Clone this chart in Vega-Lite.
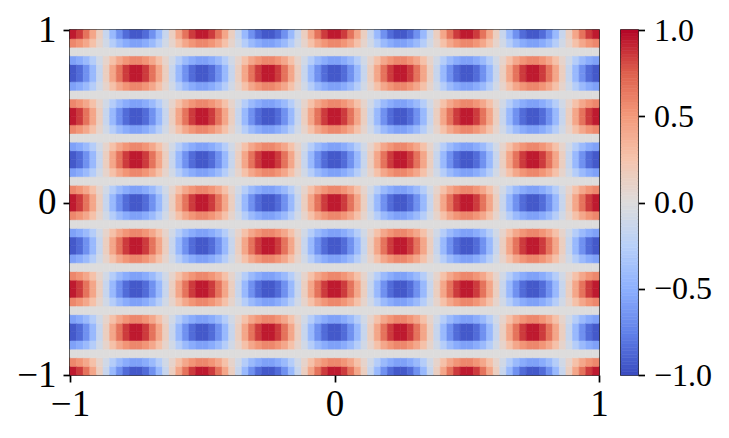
{
  "$schema": "https://vega.github.io/schema/vega-lite/v6.json",
  "padding": {"left": 15, "top": 10, "right": 5, "bottom": 5},
  "background": "white",
  "config": {
    "font": "Liberation Serif",
    "view": {"stroke": "#000000", "strokeWidth": 1.7},
    "axis": {"domain": false, "grid": false, "labelFlush": false, "tickColor": "#000000", "tickWidth": 1.7, "tickSize": 7, "labelColor": "#000000", "labelFont": "Liberation Serif", "labelFontSize": 37, "labelPadding": 7, "title": null},
    "concat": {"spacing": 9}
  },
  "datasets": {
    "ys": [
      {"k":"j0","y":-1,"y2":-0.95},{"k":"j1","y":-0.95,"y2":-0.9},{"k":"j2","y":-0.9,"y2":-0.85},{"k":"j3","y":-0.85,"y2":-0.8},{"k":"j4","y":-0.8,"y2":-0.75},
      {"k":"j5","y":-0.75,"y2":-0.7},{"k":"j6","y":-0.7,"y2":-0.65},{"k":"j7","y":-0.65,"y2":-0.6},{"k":"j8","y":-0.6,"y2":-0.55},{"k":"j9","y":-0.55,"y2":-0.5},
      {"k":"j10","y":-0.5,"y2":-0.45},{"k":"j11","y":-0.45,"y2":-0.4},{"k":"j12","y":-0.4,"y2":-0.35},{"k":"j13","y":-0.35,"y2":-0.3},{"k":"j14","y":-0.3,"y2":-0.25},
      {"k":"j15","y":-0.25,"y2":-0.2},{"k":"j16","y":-0.2,"y2":-0.15},{"k":"j17","y":-0.15,"y2":-0.1},{"k":"j18","y":-0.1,"y2":-0.05},{"k":"j19","y":-0.05,"y2":0},
      {"k":"j20","y":0,"y2":0.05},{"k":"j21","y":0.05,"y2":0.1},{"k":"j22","y":0.1,"y2":0.15},{"k":"j23","y":0.15,"y2":0.2},{"k":"j24","y":0.2,"y2":0.25},
      {"k":"j25","y":0.25,"y2":0.3},{"k":"j26","y":0.3,"y2":0.35},{"k":"j27","y":0.35,"y2":0.4},{"k":"j28","y":0.4,"y2":0.45},{"k":"j29","y":0.45,"y2":0.5},
      {"k":"j30","y":0.5,"y2":0.55},{"k":"j31","y":0.55,"y2":0.6},{"k":"j32","y":0.6,"y2":0.65},{"k":"j33","y":0.65,"y2":0.7},{"k":"j34","y":0.7,"y2":0.75},
      {"k":"j35","y":0.75,"y2":0.8},{"k":"j36","y":0.8,"y2":0.85},{"k":"j37","y":0.85,"y2":0.9},{"k":"j38","y":0.9,"y2":0.95},{"k":"j39","y":0.95,"y2":1}
    ]
  },
  "hconcat": [
    {
      "width": 529,
      "height": 345,
      "data": {
        "values": "x,x2,j0,j1,j2,j3,j4,j5,j6,j7,j8,j9,j10,j11,j12,j13,j14,j15,j16,j17,j18,j19,j20,j21,j22,j23,j24,j25,j26,j27,j28,j29,j30,j31,j32,j33,j34,j35,j36,j37,j38,j39\n-1,-.975,.94,.58,0,-.58,-.94,-.94,-.58,0,.58,.94,.94,.58,0,-.58,-.94,-.94,-.58,0,.58,.94,.94,.58,0,-.58,-.94,-.94,-.58,0,.58,.94,.94,.58,0,-.58,-.94,-.94,-.58,0,.58,.94\n-.975,-.95,.85,.52,0,-.52,-.85,-.85,-.52,0,.52,.85,.85,.52,0,-.52,-.85,-.85,-.52,0,.52,.85,.85,.52,0,-.52,-.85,-.85,-.52,0,.52,.85,.85,.52,0,-.52,-.85,-.85,-.52,0,.52,.85\n-.95,-.925,.67,.42,0,-.42,-.67,-.67,-.42,0,.42,.67,.67,.42,0,-.42,-.67,-.67,-.42,0,.42,.67,.67,.42,0,-.42,-.67,-.67,-.42,0,.42,.67,.67,.42,0,-.42,-.67,-.67,-.42,0,.42,.67\n-.925,-.9,.43,.27,0,-.27,-.43,-.43,-.27,0,.27,.43,.43,.27,0,-.27,-.43,-.43,-.27,0,.27,.43,.43,.27,0,-.27,-.43,-.43,-.27,0,.27,.43,.43,.27,0,-.27,-.43,-.43,-.27,0,.27,.43\n-.9,-.875,.15,.09,0,-.09,-.15,-.15,-.09,0,.09,.15,.15,.09,0,-.09,-.15,-.15,-.09,0,.09,.15,.15,.09,0,-.09,-.15,-.15,-.09,0,.09,.15,.15,.09,0,-.09,-.15,-.15,-.09,0,.09,.15\n-.875,-.85,-.15,-.09,0,.09,.15,.15,.09,0,-.09,-.15,-.15,-.09,0,.09,.15,.15,.09,0,-.09,-.15,-.15,-.09,0,.09,.15,.15,.09,0,-.09,-.15,-.15,-.09,0,.09,.15,.15,.09,0,-.09,-.15\n-.85,-.825,-.43,-.27,0,.27,.43,.43,.27,0,-.27,-.43,-.43,-.27,0,.27,.43,.43,.27,0,-.27,-.43,-.43,-.27,0,.27,.43,.43,.27,0,-.27,-.43,-.43,-.27,0,.27,.43,.43,.27,0,-.27,-.43\n-.825,-.8,-.67,-.42,0,.42,.67,.67,.42,0,-.42,-.67,-.67,-.42,0,.42,.67,.67,.42,0,-.42,-.67,-.67,-.42,0,.42,.67,.67,.42,0,-.42,-.67,-.67,-.42,0,.42,.67,.67,.42,0,-.42,-.67\n-.8,-.775,-.85,-.52,0,.52,.85,.85,.52,0,-.52,-.85,-.85,-.52,0,.52,.85,.85,.52,0,-.52,-.85,-.85,-.52,0,.52,.85,.85,.52,0,-.52,-.85,-.85,-.52,0,.52,.85,.85,.52,0,-.52,-.85\n-.775,-.75,-.94,-.58,0,.58,.94,.94,.58,0,-.58,-.94,-.94,-.58,0,.58,.94,.94,.58,0,-.58,-.94,-.94,-.58,0,.58,.94,.94,.58,0,-.58,-.94,-.94,-.58,0,.58,.94,.94,.58,0,-.58,-.94\n-.75,-.725,-.94,-.58,0,.58,.94,.94,.58,0,-.58,-.94,-.94,-.58,0,.58,.94,.94,.58,0,-.58,-.94,-.94,-.58,0,.58,.94,.94,.58,0,-.58,-.94,-.94,-.58,0,.58,.94,.94,.58,0,-.58,-.94\n-.725,-.7,-.85,-.52,0,.52,.85,.85,.52,0,-.52,-.85,-.85,-.52,0,.52,.85,.85,.52,0,-.52,-.85,-.85,-.52,0,.52,.85,.85,.52,0,-.52,-.85,-.85,-.52,0,.52,.85,.85,.52,0,-.52,-.85\n-.7,-.675,-.67,-.42,0,.42,.67,.67,.42,0,-.42,-.67,-.67,-.42,0,.42,.67,.67,.42,0,-.42,-.67,-.67,-.42,0,.42,.67,.67,.42,0,-.42,-.67,-.67,-.42,0,.42,.67,.67,.42,0,-.42,-.67\n-.675,-.65,-.43,-.27,0,.27,.43,.43,.27,0,-.27,-.43,-.43,-.27,0,.27,.43,.43,.27,0,-.27,-.43,-.43,-.27,0,.27,.43,.43,.27,0,-.27,-.43,-.43,-.27,0,.27,.43,.43,.27,0,-.27,-.43\n-.65,-.625,-.15,-.09,0,.09,.15,.15,.09,0,-.09,-.15,-.15,-.09,0,.09,.15,.15,.09,0,-.09,-.15,-.15,-.09,0,.09,.15,.15,.09,0,-.09,-.15,-.15,-.09,0,.09,.15,.15,.09,0,-.09,-.15\n-.625,-.6,.15,.09,0,-.09,-.15,-.15,-.09,0,.09,.15,.15,.09,0,-.09,-.15,-.15,-.09,0,.09,.15,.15,.09,0,-.09,-.15,-.15,-.09,0,.09,.15,.15,.09,0,-.09,-.15,-.15,-.09,0,.09,.15\n-.6,-.575,.43,.27,0,-.27,-.43,-.43,-.27,0,.27,.43,.43,.27,0,-.27,-.43,-.43,-.27,0,.27,.43,.43,.27,0,-.27,-.43,-.43,-.27,0,.27,.43,.43,.27,0,-.27,-.43,-.43,-.27,0,.27,.43\n-.575,-.55,.67,.42,0,-.42,-.67,-.67,-.42,0,.42,.67,.67,.42,0,-.42,-.67,-.67,-.42,0,.42,.67,.67,.42,0,-.42,-.67,-.67,-.42,0,.42,.67,.67,.42,0,-.42,-.67,-.67,-.42,0,.42,.67\n-.55,-.525,.85,.52,0,-.52,-.85,-.85,-.52,0,.52,.85,.85,.52,0,-.52,-.85,-.85,-.52,0,.52,.85,.85,.52,0,-.52,-.85,-.85,-.52,0,.52,.85,.85,.52,0,-.52,-.85,-.85,-.52,0,.52,.85\n-.525,-.5,.94,.58,0,-.58,-.94,-.94,-.58,0,.58,.94,.94,.58,0,-.58,-.94,-.94,-.58,0,.58,.94,.94,.58,0,-.58,-.94,-.94,-.58,0,.58,.94,.94,.58,0,-.58,-.94,-.94,-.58,0,.58,.94\n-.5,-.475,.94,.58,0,-.58,-.94,-.94,-.58,0,.58,.94,.94,.58,0,-.58,-.94,-.94,-.58,0,.58,.94,.94,.58,0,-.58,-.94,-.94,-.58,0,.58,.94,.94,.58,0,-.58,-.94,-.94,-.58,0,.58,.94\n-.475,-.45,.85,.52,0,-.52,-.85,-.85,-.52,0,.52,.85,.85,.52,0,-.52,-.85,-.85,-.52,0,.52,.85,.85,.52,0,-.52,-.85,-.85,-.52,0,.52,.85,.85,.52,0,-.52,-.85,-.85,-.52,0,.52,.85\n-.45,-.425,.67,.42,0,-.42,-.67,-.67,-.42,0,.42,.67,.67,.42,0,-.42,-.67,-.67,-.42,0,.42,.67,.67,.42,0,-.42,-.67,-.67,-.42,0,.42,.67,.67,.42,0,-.42,-.67,-.67,-.42,0,.42,.67\n-.425,-.4,.43,.27,0,-.27,-.43,-.43,-.27,0,.27,.43,.43,.27,0,-.27,-.43,-.43,-.27,0,.27,.43,.43,.27,0,-.27,-.43,-.43,-.27,0,.27,.43,.43,.27,0,-.27,-.43,-.43,-.27,0,.27,.43\n-.4,-.375,.15,.09,0,-.09,-.15,-.15,-.09,0,.09,.15,.15,.09,0,-.09,-.15,-.15,-.09,0,.09,.15,.15,.09,0,-.09,-.15,-.15,-.09,0,.09,.15,.15,.09,0,-.09,-.15,-.15,-.09,0,.09,.15\n-.375,-.35,-.15,-.09,0,.09,.15,.15,.09,0,-.09,-.15,-.15,-.09,0,.09,.15,.15,.09,0,-.09,-.15,-.15,-.09,0,.09,.15,.15,.09,0,-.09,-.15,-.15,-.09,0,.09,.15,.15,.09,0,-.09,-.15\n-.35,-.325,-.43,-.27,0,.27,.43,.43,.27,0,-.27,-.43,-.43,-.27,0,.27,.43,.43,.27,0,-.27,-.43,-.43,-.27,0,.27,.43,.43,.27,0,-.27,-.43,-.43,-.27,0,.27,.43,.43,.27,0,-.27,-.43\n-.325,-.3,-.67,-.42,0,.42,.67,.67,.42,0,-.42,-.67,-.67,-.42,0,.42,.67,.67,.42,0,-.42,-.67,-.67,-.42,0,.42,.67,.67,.42,0,-.42,-.67,-.67,-.42,0,.42,.67,.67,.42,0,-.42,-.67\n-.3,-.275,-.85,-.52,0,.52,.85,.85,.52,0,-.52,-.85,-.85,-.52,0,.52,.85,.85,.52,0,-.52,-.85,-.85,-.52,0,.52,.85,.85,.52,0,-.52,-.85,-.85,-.52,0,.52,.85,.85,.52,0,-.52,-.85\n-.275,-.25,-.94,-.58,0,.58,.94,.94,.58,0,-.58,-.94,-.94,-.58,0,.58,.94,.94,.58,0,-.58,-.94,-.94,-.58,0,.58,.94,.94,.58,0,-.58,-.94,-.94,-.58,0,.58,.94,.94,.58,0,-.58,-.94\n-.25,-.225,-.94,-.58,0,.58,.94,.94,.58,0,-.58,-.94,-.94,-.58,0,.58,.94,.94,.58,0,-.58,-.94,-.94,-.58,0,.58,.94,.94,.58,0,-.58,-.94,-.94,-.58,0,.58,.94,.94,.58,0,-.58,-.94\n-.225,-.2,-.85,-.52,0,.52,.85,.85,.52,0,-.52,-.85,-.85,-.52,0,.52,.85,.85,.52,0,-.52,-.85,-.85,-.52,0,.52,.85,.85,.52,0,-.52,-.85,-.85,-.52,0,.52,.85,.85,.52,0,-.52,-.85\n-.2,-.175,-.67,-.42,0,.42,.67,.67,.42,0,-.42,-.67,-.67,-.42,0,.42,.67,.67,.42,0,-.42,-.67,-.67,-.42,0,.42,.67,.67,.42,0,-.42,-.67,-.67,-.42,0,.42,.67,.67,.42,0,-.42,-.67\n-.175,-.15,-.43,-.27,0,.27,.43,.43,.27,0,-.27,-.43,-.43,-.27,0,.27,.43,.43,.27,0,-.27,-.43,-.43,-.27,0,.27,.43,.43,.27,0,-.27,-.43,-.43,-.27,0,.27,.43,.43,.27,0,-.27,-.43\n-.15,-.125,-.15,-.09,0,.09,.15,.15,.09,0,-.09,-.15,-.15,-.09,0,.09,.15,.15,.09,0,-.09,-.15,-.15,-.09,0,.09,.15,.15,.09,0,-.09,-.15,-.15,-.09,0,.09,.15,.15,.09,0,-.09,-.15\n-.125,-.1,.15,.09,0,-.09,-.15,-.15,-.09,0,.09,.15,.15,.09,0,-.09,-.15,-.15,-.09,0,.09,.15,.15,.09,0,-.09,-.15,-.15,-.09,0,.09,.15,.15,.09,0,-.09,-.15,-.15,-.09,0,.09,.15\n-.1,-.075,.43,.27,0,-.27,-.43,-.43,-.27,0,.27,.43,.43,.27,0,-.27,-.43,-.43,-.27,0,.27,.43,.43,.27,0,-.27,-.43,-.43,-.27,0,.27,.43,.43,.27,0,-.27,-.43,-.43,-.27,0,.27,.43\n-.075,-.05,.67,.42,0,-.42,-.67,-.67,-.42,0,.42,.67,.67,.42,0,-.42,-.67,-.67,-.42,0,.42,.67,.67,.42,0,-.42,-.67,-.67,-.42,0,.42,.67,.67,.42,0,-.42,-.67,-.67,-.42,0,.42,.67\n-.05,-.025,.85,.52,0,-.52,-.85,-.85,-.52,0,.52,.85,.85,.52,0,-.52,-.85,-.85,-.52,0,.52,.85,.85,.52,0,-.52,-.85,-.85,-.52,0,.52,.85,.85,.52,0,-.52,-.85,-.85,-.52,0,.52,.85\n-.025,0,.94,.58,0,-.58,-.94,-.94,-.58,0,.58,.94,.94,.58,0,-.58,-.94,-.94,-.58,0,.58,.94,.94,.58,0,-.58,-.94,-.94,-.58,0,.58,.94,.94,.58,0,-.58,-.94,-.94,-.58,0,.58,.94\n0,.025,.94,.58,0,-.58,-.94,-.94,-.58,0,.58,.94,.94,.58,0,-.58,-.94,-.94,-.58,0,.58,.94,.94,.58,0,-.58,-.94,-.94,-.58,0,.58,.94,.94,.58,0,-.58,-.94,-.94,-.58,0,.58,.94\n.025,.05,.85,.52,0,-.52,-.85,-.85,-.52,0,.52,.85,.85,.52,0,-.52,-.85,-.85,-.52,0,.52,.85,.85,.52,0,-.52,-.85,-.85,-.52,0,.52,.85,.85,.52,0,-.52,-.85,-.85,-.52,0,.52,.85\n.05,.075,.67,.42,0,-.42,-.67,-.67,-.42,0,.42,.67,.67,.42,0,-.42,-.67,-.67,-.42,0,.42,.67,.67,.42,0,-.42,-.67,-.67,-.42,0,.42,.67,.67,.42,0,-.42,-.67,-.67,-.42,0,.42,.67\n.075,.1,.43,.27,0,-.27,-.43,-.43,-.27,0,.27,.43,.43,.27,0,-.27,-.43,-.43,-.27,0,.27,.43,.43,.27,0,-.27,-.43,-.43,-.27,0,.27,.43,.43,.27,0,-.27,-.43,-.43,-.27,0,.27,.43\n.1,.125,.15,.09,0,-.09,-.15,-.15,-.09,0,.09,.15,.15,.09,0,-.09,-.15,-.15,-.09,0,.09,.15,.15,.09,0,-.09,-.15,-.15,-.09,0,.09,.15,.15,.09,0,-.09,-.15,-.15,-.09,0,.09,.15\n.125,.15,-.15,-.09,0,.09,.15,.15,.09,0,-.09,-.15,-.15,-.09,0,.09,.15,.15,.09,0,-.09,-.15,-.15,-.09,0,.09,.15,.15,.09,0,-.09,-.15,-.15,-.09,0,.09,.15,.15,.09,0,-.09,-.15\n.15,.175,-.43,-.27,0,.27,.43,.43,.27,0,-.27,-.43,-.43,-.27,0,.27,.43,.43,.27,0,-.27,-.43,-.43,-.27,0,.27,.43,.43,.27,0,-.27,-.43,-.43,-.27,0,.27,.43,.43,.27,0,-.27,-.43\n.175,.2,-.67,-.42,0,.42,.67,.67,.42,0,-.42,-.67,-.67,-.42,0,.42,.67,.67,.42,0,-.42,-.67,-.67,-.42,0,.42,.67,.67,.42,0,-.42,-.67,-.67,-.42,0,.42,.67,.67,.42,0,-.42,-.67\n.2,.225,-.85,-.52,0,.52,.85,.85,.52,0,-.52,-.85,-.85,-.52,0,.52,.85,.85,.52,0,-.52,-.85,-.85,-.52,0,.52,.85,.85,.52,0,-.52,-.85,-.85,-.52,0,.52,.85,.85,.52,0,-.52,-.85\n.225,.25,-.94,-.58,0,.58,.94,.94,.58,0,-.58,-.94,-.94,-.58,0,.58,.94,.94,.58,0,-.58,-.94,-.94,-.58,0,.58,.94,.94,.58,0,-.58,-.94,-.94,-.58,0,.58,.94,.94,.58,0,-.58,-.94\n.25,.275,-.94,-.58,0,.58,.94,.94,.58,0,-.58,-.94,-.94,-.58,0,.58,.94,.94,.58,0,-.58,-.94,-.94,-.58,0,.58,.94,.94,.58,0,-.58,-.94,-.94,-.58,0,.58,.94,.94,.58,0,-.58,-.94\n.275,.3,-.85,-.52,0,.52,.85,.85,.52,0,-.52,-.85,-.85,-.52,0,.52,.85,.85,.52,0,-.52,-.85,-.85,-.52,0,.52,.85,.85,.52,0,-.52,-.85,-.85,-.52,0,.52,.85,.85,.52,0,-.52,-.85\n.3,.325,-.67,-.42,0,.42,.67,.67,.42,0,-.42,-.67,-.67,-.42,0,.42,.67,.67,.42,0,-.42,-.67,-.67,-.42,0,.42,.67,.67,.42,0,-.42,-.67,-.67,-.42,0,.42,.67,.67,.42,0,-.42,-.67\n.325,.35,-.43,-.27,0,.27,.43,.43,.27,0,-.27,-.43,-.43,-.27,0,.27,.43,.43,.27,0,-.27,-.43,-.43,-.27,0,.27,.43,.43,.27,0,-.27,-.43,-.43,-.27,0,.27,.43,.43,.27,0,-.27,-.43\n.35,.375,-.15,-.09,0,.09,.15,.15,.09,0,-.09,-.15,-.15,-.09,0,.09,.15,.15,.09,0,-.09,-.15,-.15,-.09,0,.09,.15,.15,.09,0,-.09,-.15,-.15,-.09,0,.09,.15,.15,.09,0,-.09,-.15\n.375,.4,.15,.09,0,-.09,-.15,-.15,-.09,0,.09,.15,.15,.09,0,-.09,-.15,-.15,-.09,0,.09,.15,.15,.09,0,-.09,-.15,-.15,-.09,0,.09,.15,.15,.09,0,-.09,-.15,-.15,-.09,0,.09,.15\n.4,.425,.43,.27,0,-.27,-.43,-.43,-.27,0,.27,.43,.43,.27,0,-.27,-.43,-.43,-.27,0,.27,.43,.43,.27,0,-.27,-.43,-.43,-.27,0,.27,.43,.43,.27,0,-.27,-.43,-.43,-.27,0,.27,.43\n.425,.45,.67,.42,0,-.42,-.67,-.67,-.42,0,.42,.67,.67,.42,0,-.42,-.67,-.67,-.42,0,.42,.67,.67,.42,0,-.42,-.67,-.67,-.42,0,.42,.67,.67,.42,0,-.42,-.67,-.67,-.42,0,.42,.67\n.45,.475,.85,.52,0,-.52,-.85,-.85,-.52,0,.52,.85,.85,.52,0,-.52,-.85,-.85,-.52,0,.52,.85,.85,.52,0,-.52,-.85,-.85,-.52,0,.52,.85,.85,.52,0,-.52,-.85,-.85,-.52,0,.52,.85\n.475,.5,.94,.58,0,-.58,-.94,-.94,-.58,0,.58,.94,.94,.58,0,-.58,-.94,-.94,-.58,0,.58,.94,.94,.58,0,-.58,-.94,-.94,-.58,0,.58,.94,.94,.58,0,-.58,-.94,-.94,-.58,0,.58,.94\n.5,.525,.94,.58,0,-.58,-.94,-.94,-.58,0,.58,.94,.94,.58,0,-.58,-.94,-.94,-.58,0,.58,.94,.94,.58,0,-.58,-.94,-.94,-.58,0,.58,.94,.94,.58,0,-.58,-.94,-.94,-.58,0,.58,.94\n.525,.55,.85,.52,0,-.52,-.85,-.85,-.52,0,.52,.85,.85,.52,0,-.52,-.85,-.85,-.52,0,.52,.85,.85,.52,0,-.52,-.85,-.85,-.52,0,.52,.85,.85,.52,0,-.52,-.85,-.85,-.52,0,.52,.85\n.55,.575,.67,.42,0,-.42,-.67,-.67,-.42,0,.42,.67,.67,.42,0,-.42,-.67,-.67,-.42,0,.42,.67,.67,.42,0,-.42,-.67,-.67,-.42,0,.42,.67,.67,.42,0,-.42,-.67,-.67,-.42,0,.42,.67\n.575,.6,.43,.27,0,-.27,-.43,-.43,-.27,0,.27,.43,.43,.27,0,-.27,-.43,-.43,-.27,0,.27,.43,.43,.27,0,-.27,-.43,-.43,-.27,0,.27,.43,.43,.27,0,-.27,-.43,-.43,-.27,0,.27,.43\n.6,.625,.15,.09,0,-.09,-.15,-.15,-.09,0,.09,.15,.15,.09,0,-.09,-.15,-.15,-.09,0,.09,.15,.15,.09,0,-.09,-.15,-.15,-.09,0,.09,.15,.15,.09,0,-.09,-.15,-.15,-.09,0,.09,.15\n.625,.65,-.15,-.09,0,.09,.15,.15,.09,0,-.09,-.15,-.15,-.09,0,.09,.15,.15,.09,0,-.09,-.15,-.15,-.09,0,.09,.15,.15,.09,0,-.09,-.15,-.15,-.09,0,.09,.15,.15,.09,0,-.09,-.15\n.65,.675,-.43,-.27,0,.27,.43,.43,.27,0,-.27,-.43,-.43,-.27,0,.27,.43,.43,.27,0,-.27,-.43,-.43,-.27,0,.27,.43,.43,.27,0,-.27,-.43,-.43,-.27,0,.27,.43,.43,.27,0,-.27,-.43\n.675,.7,-.67,-.42,0,.42,.67,.67,.42,0,-.42,-.67,-.67,-.42,0,.42,.67,.67,.42,0,-.42,-.67,-.67,-.42,0,.42,.67,.67,.42,0,-.42,-.67,-.67,-.42,0,.42,.67,.67,.42,0,-.42,-.67\n.7,.725,-.85,-.52,0,.52,.85,.85,.52,0,-.52,-.85,-.85,-.52,0,.52,.85,.85,.52,0,-.52,-.85,-.85,-.52,0,.52,.85,.85,.52,0,-.52,-.85,-.85,-.52,0,.52,.85,.85,.52,0,-.52,-.85\n.725,.75,-.94,-.58,0,.58,.94,.94,.58,0,-.58,-.94,-.94,-.58,0,.58,.94,.94,.58,0,-.58,-.94,-.94,-.58,0,.58,.94,.94,.58,0,-.58,-.94,-.94,-.58,0,.58,.94,.94,.58,0,-.58,-.94\n.75,.775,-.94,-.58,0,.58,.94,.94,.58,0,-.58,-.94,-.94,-.58,0,.58,.94,.94,.58,0,-.58,-.94,-.94,-.58,0,.58,.94,.94,.58,0,-.58,-.94,-.94,-.58,0,.58,.94,.94,.58,0,-.58,-.94\n.775,.8,-.85,-.52,0,.52,.85,.85,.52,0,-.52,-.85,-.85,-.52,0,.52,.85,.85,.52,0,-.52,-.85,-.85,-.52,0,.52,.85,.85,.52,0,-.52,-.85,-.85,-.52,0,.52,.85,.85,.52,0,-.52,-.85\n.8,.825,-.67,-.42,0,.42,.67,.67,.42,0,-.42,-.67,-.67,-.42,0,.42,.67,.67,.42,0,-.42,-.67,-.67,-.42,0,.42,.67,.67,.42,0,-.42,-.67,-.67,-.42,0,.42,.67,.67,.42,0,-.42,-.67\n.825,.85,-.43,-.27,0,.27,.43,.43,.27,0,-.27,-.43,-.43,-.27,0,.27,.43,.43,.27,0,-.27,-.43,-.43,-.27,0,.27,.43,.43,.27,0,-.27,-.43,-.43,-.27,0,.27,.43,.43,.27,0,-.27,-.43\n.85,.875,-.15,-.09,0,.09,.15,.15,.09,0,-.09,-.15,-.15,-.09,0,.09,.15,.15,.09,0,-.09,-.15,-.15,-.09,0,.09,.15,.15,.09,0,-.09,-.15,-.15,-.09,0,.09,.15,.15,.09,0,-.09,-.15\n.875,.9,.15,.09,0,-.09,-.15,-.15,-.09,0,.09,.15,.15,.09,0,-.09,-.15,-.15,-.09,0,.09,.15,.15,.09,0,-.09,-.15,-.15,-.09,0,.09,.15,.15,.09,0,-.09,-.15,-.15,-.09,0,.09,.15\n.9,.925,.43,.27,0,-.27,-.43,-.43,-.27,0,.27,.43,.43,.27,0,-.27,-.43,-.43,-.27,0,.27,.43,.43,.27,0,-.27,-.43,-.43,-.27,0,.27,.43,.43,.27,0,-.27,-.43,-.43,-.27,0,.27,.43\n.925,.95,.67,.42,0,-.42,-.67,-.67,-.42,0,.42,.67,.67,.42,0,-.42,-.67,-.67,-.42,0,.42,.67,.67,.42,0,-.42,-.67,-.67,-.42,0,.42,.67,.67,.42,0,-.42,-.67,-.67,-.42,0,.42,.67\n.95,.975,.85,.52,0,-.52,-.85,-.85,-.52,0,.52,.85,.85,.52,0,-.52,-.85,-.85,-.52,0,.52,.85,.85,.52,0,-.52,-.85,-.85,-.52,0,.52,.85,.85,.52,0,-.52,-.85,-.85,-.52,0,.52,.85\n.975,1,.94,.58,0,-.58,-.94,-.94,-.58,0,.58,.94,.94,.58,0,-.58,-.94,-.94,-.58,0,.58,.94,.94,.58,0,-.58,-.94,-.94,-.58,0,.58,.94,.94,.58,0,-.58,-.94,-.94,-.58,0,.58,.94",
        "format": {"type": "csv", "parse": {"x":"number","x2":"number","j0":"number","j1":"number","j2":"number","j3":"number","j4":"number","j5":"number","j6":"number","j7":"number","j8":"number","j9":"number","j10":"number","j11":"number","j12":"number","j13":"number","j14":"number","j15":"number","j16":"number","j17":"number","j18":"number","j19":"number","j20":"number","j21":"number","j22":"number","j23":"number","j24":"number","j25":"number","j26":"number","j27":"number","j28":"number","j29":"number","j30":"number","j31":"number","j32":"number","j33":"number","j34":"number","j35":"number","j36":"number","j37":"number","j38":"number","j39":"number"}}
      },
      "transform": [
        {"fold": ["j0","j1","j2","j3","j4","j5","j6","j7","j8","j9","j10","j11","j12","j13","j14","j15","j16","j17","j18","j19","j20","j21","j22","j23","j24","j25","j26","j27","j28","j29","j30","j31","j32","j33","j34","j35","j36","j37","j38","j39"], "as": ["k","z"]},
        {"lookup": "k", "from": {"data": {"name": "ys"}, "key": "k", "fields": ["y","y2"]}}
      ],
      "mark": {"type": "rect", "strokeWidth": 0.6},
      "encoding": {
        "x": {"field": "x", "type": "quantitative", "scale": {"domain": [-1, 1], "nice": false, "zero": false}, "axis": {"values": [-1, 0, 1], "format": ".0f", "labelOverlap": false, "labelPadding": 4, "title": null}},
        "x2": {"field": "x2"},
        "y": {"field": "y", "type": "quantitative", "scale": {"domain": [-1, 1], "nice": false, "zero": false}, "axis": {"values": [-1, 0, 1], "format": ".0f", "labelOverlap": false, "title": null}},
        "y2": {"field": "y2"},
        "color": {"field": "z", "type": "quantitative", "legend": null, "scale": {"type": "linear", "domain": [-1, -0.75, -0.5, -0.25, 0, 0.25, 0.5, 0.75, 1], "range": ["#3a4cc0", "#6282ea", "#8db0fe", "#b8d0f9", "#dddcdc", "#f5c4ad", "#f49a7b", "#de604d", "#b40426"], "interpolate": "rgb"}},
        "stroke": {"field": "z", "type": "quantitative", "legend": null, "scale": {"type": "linear", "domain": [-1, -0.75, -0.5, -0.25, 0, 0.25, 0.5, 0.75, 1], "range": ["#3a4cc0", "#6282ea", "#8db0fe", "#b8d0f9", "#dddcdc", "#f5c4ad", "#f49a7b", "#de604d", "#b40426"], "interpolate": "rgb"}}
      }
    },
    {
      "width": 17,
      "height": 345,
      "data": {
        "values": "a,b,c\n-1,-.98,-.99\n-.98,-.96,-.97\n-.96,-.94,-.95\n-.94,-.92,-.93\n-.92,-.9,-.91\n-.9,-.88,-.89\n-.88,-.86,-.87\n-.86,-.84,-.85\n-.84,-.82,-.83\n-.82,-.8,-.81\n-.8,-.78,-.79\n-.78,-.76,-.77\n-.76,-.74,-.75\n-.74,-.72,-.73\n-.72,-.7,-.71\n-.7,-.68,-.69\n-.68,-.66,-.67\n-.66,-.64,-.65\n-.64,-.62,-.63\n-.62,-.6,-.61\n-.6,-.58,-.59\n-.58,-.56,-.57\n-.56,-.54,-.55\n-.54,-.52,-.53\n-.52,-.5,-.51\n-.5,-.48,-.49\n-.48,-.46,-.47\n-.46,-.44,-.45\n-.44,-.42,-.43\n-.42,-.4,-.41\n-.4,-.38,-.39\n-.38,-.36,-.37\n-.36,-.34,-.35\n-.34,-.32,-.33\n-.32,-.3,-.31\n-.3,-.28,-.29\n-.28,-.26,-.27\n-.26,-.24,-.25\n-.24,-.22,-.23\n-.22,-.2,-.21\n-.2,-.18,-.19\n-.18,-.16,-.17\n-.16,-.14,-.15\n-.14,-.12,-.13\n-.12,-.1,-.11\n-.1,-.08,-.09\n-.08,-.06,-.07\n-.06,-.04,-.05\n-.04,-.02,-.03\n-.02,0,-.01\n0,.02,.01\n.02,.04,.03\n.04,.06,.05\n.06,.08,.07\n.08,.1,.09\n.1,.12,.11\n.12,.14,.13\n.14,.16,.15\n.16,.18,.17\n.18,.2,.19\n.2,.22,.21\n.22,.24,.23\n.24,.26,.25\n.26,.28,.27\n.28,.3,.29\n.3,.32,.31\n.32,.34,.33\n.34,.36,.35\n.36,.38,.37\n.38,.4,.39\n.4,.42,.41\n.42,.44,.43\n.44,.46,.45\n.46,.48,.47\n.48,.5,.49\n.5,.52,.51\n.52,.54,.53\n.54,.56,.55\n.56,.58,.57\n.58,.6,.59\n.6,.62,.61\n.62,.64,.63\n.64,.66,.65\n.66,.68,.67\n.68,.7,.69\n.7,.72,.71\n.72,.74,.73\n.74,.76,.75\n.76,.78,.77\n.78,.8,.79\n.8,.82,.81\n.82,.84,.83\n.84,.86,.85\n.86,.88,.87\n.88,.9,.89\n.9,.92,.91\n.92,.94,.93\n.94,.96,.95\n.96,.98,.97\n.98,1,.99",
        "format": {"type": "csv", "parse": {"a": "number", "b": "number", "c": "number"}}
      },
      "mark": {"type": "rect", "strokeWidth": 0.6},
      "encoding": {
        "y": {"field": "a", "type": "quantitative", "scale": {"domain": [-1, 1], "nice": false, "zero": false}, "axis": {"orient": "right", "values": [-1, -0.5, 0, 0.5, 1], "format": ".1f", "labelOverlap": false, "labelFontSize": 32, "tickSize": 6.5, "labelPadding": 9, "title": null}},
        "y2": {"field": "b"},
        "color": {"field": "c", "type": "quantitative", "legend": null, "scale": {"type": "linear", "domain": [-1, -0.75, -0.5, -0.25, 0, 0.25, 0.5, 0.75, 1], "range": ["#3a4cc0", "#6282ea", "#8db0fe", "#b8d0f9", "#dddcdc", "#f5c4ad", "#f49a7b", "#de604d", "#b40426"], "interpolate": "rgb"}},
        "stroke": {"field": "c", "type": "quantitative", "legend": null, "scale": {"type": "linear", "domain": [-1, -0.75, -0.5, -0.25, 0, 0.25, 0.5, 0.75, 1], "range": ["#3a4cc0", "#6282ea", "#8db0fe", "#b8d0f9", "#dddcdc", "#f5c4ad", "#f49a7b", "#de604d", "#b40426"], "interpolate": "rgb"}}
      }
    }
  ],
  "resolve": {"scale": {"color": "independent", "stroke": "independent"}}
}
